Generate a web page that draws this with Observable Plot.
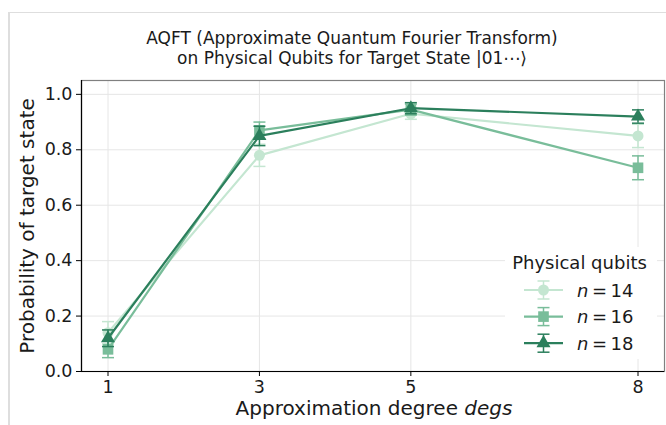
<!DOCTYPE html>
<html>
<head>
<meta charset="utf-8">
<script src="https://cdn.jsdelivr.net/npm/d3@7"></script>
<script src="https://cdn.jsdelivr.net/npm/@observablehq/plot@0.6"></script>
<style>
  html, body { margin: 0; padding: 0; background: #fff; }
  #wrap { position: relative; width: 666px; height: 425px; overflow: hidden; }
  #edge { position: absolute; left: 8px; top: 12px; right: -2px; bottom: -2px;
          border-top: 1px solid #dedede; border-left: 2px solid #dedede; pointer-events: none; }
  #chart { position: absolute; left: 0; top: 0; }
</style>
</head>
<body>
<div id="wrap"><div id="edge"></div><div id="chart"></div></div>
<script>
// ---- data ----
const degs = [1, 3, 5, 8];
const qubits = [14, 16, 18];
const p14 = [0.14, 0.78, 0.93, 0.85];
const e14 = [0.04, 0.04, 0.02, 0.042];
const p16 = [0.08, 0.87, 0.945, 0.735];
const e16 = [0.03, 0.03, 0.02, 0.043];
const p18 = [0.12, 0.85, 0.95, 0.92];
const e18 = [0.03, 0.035, 0.02, 0.024];
const yTicks = [0, 0.2, 0.4, 0.6, 0.8, 1.0];
const colors = ["#c4e6d1", "#79bd9a", "#2b7f5c"];
const symbols = ["circle", "square", "triangle"];
const radii = [5.5, 6, 5.2];
const titleLines = ["AQFT (Approximate Quantum Fourier Transform)", "on Physical Qubits for Target State |01\u22EF\u27E9"];
const xLabel = "Approximation degree degs";
const yLabel = "Probability of target state";
const legendTitle = "Physical qubits";

const seriesP = [p14, p16, p18];
const seriesE = [e14, e16, e18];
const rowsBy = qubits.map((n, i) => degs.map((d, j) => ({deg: d, n, p: seriesP[i][j], e: seriesE[i][j]})));

const cap = {draw(ctx) { ctx.moveTo(-6, 0); ctx.lineTo(6, 0); }};

const seriesMarks = [];
rowsBy.forEach((rows, i) => {
  seriesMarks.push(
    Plot.line(rows, {x: "deg", y: "p", stroke: "n", strokeWidth: 2.2}),
    Plot.ruleX(rows, {x: "deg", y1: d => d.p - d.e, y2: d => d.p + d.e, stroke: "n", strokeWidth: 1.5}),
    Plot.dot(rows, {x: "deg", y: d => d.p + d.e, symbol: cap, stroke: "n", fill: "none", strokeWidth: 1.5}),
    Plot.dot(rows, {x: "deg", y: d => d.p - d.e, symbol: cap, stroke: "n", fill: "none", strokeWidth: 1.5}),
    Plot.dot(rows, {x: "deg", y: "p", symbol: symbols[i], fill: "n", stroke: "none", r: radii[i]})
  );
});

const chart = Plot.plot({
  width: 666, height: 425,
  marginLeft: 81, marginRight: 2, marginTop: 80, marginBottom: 54,
  style: {fontFamily: "DejaVu Sans", fontSize: "17.5px", color: "#1a1a1a", background: "transparent", overflow: "visible"},
  x: {domain: [0.65, 8.35]},
  y: {domain: [0, 1.05]},
  color: {type: "ordinal", domain: qubits, range: colors},
  marks: [
    Plot.gridX(degs, {stroke: "#e6e6e6", strokeOpacity: 1, strokeWidth: 1}),
    Plot.gridY(yTicks, {stroke: "#e6e6e6", strokeOpacity: 1, strokeWidth: 1}),
    Plot.frame({stroke: "#808080", strokeWidth: 1.2}),
    Plot.ruleY([0], {stroke: "#000", strokeWidth: 1.2}),
    Plot.ruleX([0.65], {stroke: "#000", strokeWidth: 1.2}),
    Plot.axisX(degs, {tickSize: 5, tickPadding: 4.5, label: null, fontSize: 17.5, stroke: "#000"}),
    Plot.axisY(yTicks, {tickSize: 5, tickPadding: 4, label: null, fontSize: 17.5, tickFormat: d3.format(".1f"), stroke: "#000"}),
    ...seriesMarks,
    Plot.text([titleLines[0]], {text: d => d, frameAnchor: "top", dx: -21, dy: -48.4, fontSize: 17, fill: "#1a1a1a"}),
    Plot.text([titleLines[1]], {text: d => d, frameAnchor: "top", dx: -21, dy: -28.4, fontSize: 17, fill: "#1a1a1a"}),
    Plot.text([xLabel], {text: d => d, frameAnchor: "bottom", dx: 1, dy: 43.6, fontSize: 20, fill: "#1a1a1a"}),
    Plot.text([yLabel], {text: d => d, frameAnchor: "left", textAnchor: "middle", dx: -54.4, rotate: -90, fontSize: 20, fill: "#1a1a1a"})
  ]
});
document.getElementById("chart").appendChild(chart);

// italic "degs" in the x label
d3.select(chart).selectAll("text").each(function() {
  if (this.textContent === xLabel) {
    const t = d3.select(this);
    t.text(null);
    t.append("tspan").text("Approximation degree ");
    t.append("tspan").attr("font-style", "italic").text("degs");
  }
});

// legend
const lg = d3.select(chart).append("g").attr("font-family", "DejaVu Sans").attr("text-anchor", "start");
lg.append("rect").attr("x", 505).attr("y", 247).attr("width", 152).attr("height", 112).attr("fill", "#fff").attr("rx", 3);
lg.append("text").attr("x", 579.5).attr("y", 269).attr("text-anchor", "middle").attr("font-size", 18).attr("fill", "#1a1a1a").text(legendTitle);
qubits.forEach((n, i) => {
  const y = 290 + i * 26.6, cx = 543.5, c = colors[i];
  lg.append("line").attr("x1", 524).attr("x2", 563).attr("y1", y).attr("y2", y).attr("stroke", c).attr("stroke-width", 2.2);
  lg.append("line").attr("x1", cx).attr("x2", cx).attr("y1", y - 9).attr("y2", y + 9).attr("stroke", c).attr("stroke-width", 1.5);
  [y - 9, y + 9].forEach(yy => lg.append("line").attr("x1", cx - 6).attr("x2", cx + 6).attr("y1", yy).attr("y2", yy).attr("stroke", c).attr("stroke-width", 1.5));
  const symType = [d3.symbolCircle, d3.symbolSquare, d3.symbolTriangle][i];
  lg.append("path").attr("transform", `translate(${cx},${y})`).attr("d", d3.symbol(symType, Math.PI * radii[i] * radii[i])()).attr("fill", c);
  const t = lg.append("text").attr("x", 577).attr("y", y + 6.5).attr("font-size", 18).attr("fill", "#1a1a1a");
  t.append("tspan").attr("font-style", "italic").text("n");
  t.append("tspan").attr("dx", 3.5).text("=");
  t.append("tspan").attr("dx", 3.5).text(String(n));
});
</script>
</body>
</html>
